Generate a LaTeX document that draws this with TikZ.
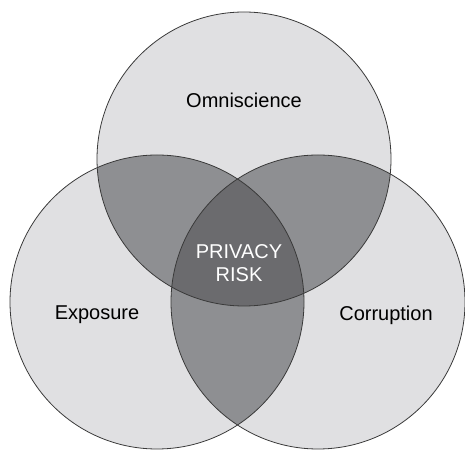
\documentclass[tikz,border=0pt]{standalone}
\usepackage{fontspec}
\setmainfont{Liberation Sans}
\usepackage{xcolor}
\usepackage{tikz}
\usetikzlibrary{positioning}

\definecolor{oneset}{HTML}{E0E0E2}
\definecolor{twoset}{HTML}{8E8F92}
\definecolor{threeset}{HTML}{6B6B6E}
\definecolor{rim}{HTML}{3A3A3A}

\begin{document}
\begin{tikzpicture}[
    x=1pt, y=1pt,
    rimline/.style={draw=rim, line width=0.8pt},
    label/.style={font=\fontsize{20}{24}\selectfont, text=black},
    core/.style={font=\fontsize{20}{23}\selectfont, text=white, align=center}
]

\useasboundingbox (0,0) rectangle (465,449);

% Centres
\coordinate (omni) at (244,290);
\coordinate (expo) at (157,147);
\coordinate (corr) at (318,147);

% Single areas
\fill[oneset] (omni) circle (147);
\fill[oneset] (expo) circle (147);
\fill[oneset] (corr) circle (147);

% Pairwise overlaps
\begin{scope}
  \clip (omni) circle (147);
  \fill[twoset] (expo) circle (147);
  \fill[twoset] (corr) circle (147);
\end{scope}
\begin{scope}
  \clip (expo) circle (147);
  \fill[twoset] (corr) circle (147);
\end{scope}

% Triple overlap
\begin{scope}
  \clip (omni) circle (147);
  \clip (expo) circle (147);
  \fill[threeset] (corr) circle (147);
\end{scope}

% Outlines
\draw[rimline] (omni) circle (147);
\draw[rimline] (expo) circle (147);
\draw[rimline] (corr) circle (147);

% Labels
\node[label] (omnitext) at (244,349) {Omniscience};
\node[label] (expotext) at (97,134) {Exposure};
\node[label] (corrtext) at (386,134) {Corruption};
\node[core] (risk) at (239,186) {PRIVACY\\RISK};

\end{tikzpicture}
\end{document}
